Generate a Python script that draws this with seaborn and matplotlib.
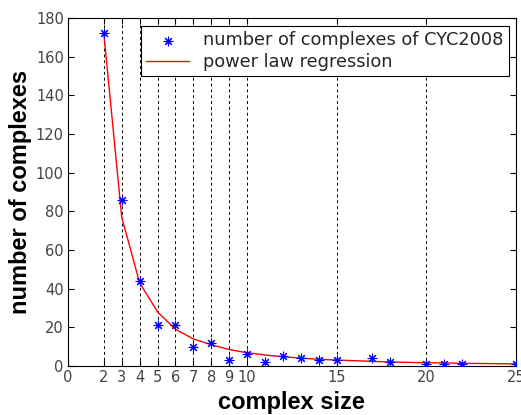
import matplotlib
matplotlib.use("Agg")
import matplotlib.pyplot as plt
import seaborn as sns
import pandas as pd

sizes = [2, 3, 4, 5, 6, 7, 8, 9, 10, 11, 12, 13, 14, 15, 17, 18, 20, 21, 22, 25]
counts = [172, 86, 44, 21, 21, 10, 12, 3, 6, 2, 5, 4, 3, 3, 4, 2, 1, 1, 1, 1]
fit = [172, 77, 43, 28, 19, 14, 11, 8.5, 6.9, 5.7, 4.8, 4.1, 3.5, 3.1, 2.4, 2.1, 1.7, 1.6, 1.4, 1.1]
xticks = [0, 2, 3, 4, 5, 6, 7, 8, 9, 10, 15, 20, 25]
grid_x = [2, 3, 4, 5, 6, 7, 8, 9, 10, 15, 20]
yticks = list(range(0, 181, 20))

df = pd.DataFrame({"size": sizes, "count": counts, "fit": fit})

sns.set_theme(style="white")
plt.rcParams['font.family'] = ['DejaVu Sans']

fig = plt.figure(figsize=(5.21, 4.15), dpi=100)
ax = fig.add_axes([0.1305, 0.118, 0.8595, 0.839])

for gx in grid_x:
    ax.axvline(gx, color="black", linestyle=(0, (3, 3)), linewidth=0.7, zorder=0)

sns.lineplot(data=df, x="size", y="fit", ax=ax, color="red", linewidth=1.0,
             label="power law regression", zorder=2)
sns.scatterplot(data=df, x="size", y="count", ax=ax, marker=(8, 2, 0), s=40,
                color="blue", linewidth=0.8, edgecolor="blue",
                label="number of complexes of CYC2008", zorder=3)

ax.set_xlim(0, 25)
ax.set_ylim(0, 180)
ax.set_xticks(xticks)
ax.set_yticks(yticks)
ax.tick_params(direction="in", length=4, width=0.8, colors="black",
               labelcolor="#444444", labelsize=10.5, top=True, right=True,
               bottom=True, left=True, pad=3)
for s in ax.spines.values():
    s.set_color("black")
    s.set_linewidth(0.8)
ax.set_xlabel("complex size", fontsize=17, fontweight="bold", labelpad=4,
              family=["Liberation Sans", "DejaVu Sans"], color="black")
ax.set_ylabel("number of complexes", fontsize=17, fontweight="bold", labelpad=3,
              family=["Liberation Sans", "DejaVu Sans"], color="black")

h, l = ax.get_legend_handles_labels()
leg = ax.legend(h[::-1], l[::-1], loc="upper right", bbox_to_anchor=(0.985, 0.977),
                fontsize=12.8, frameon=True, fancybox=False, edgecolor="black",
                framealpha=1, borderpad=0.3, handlelength=2.4, labelspacing=0.2,
                handletextpad=0.8, borderaxespad=0.0)
leg.get_frame().set_linewidth(0.8)

fig.savefig("out.png", dpi=100)
